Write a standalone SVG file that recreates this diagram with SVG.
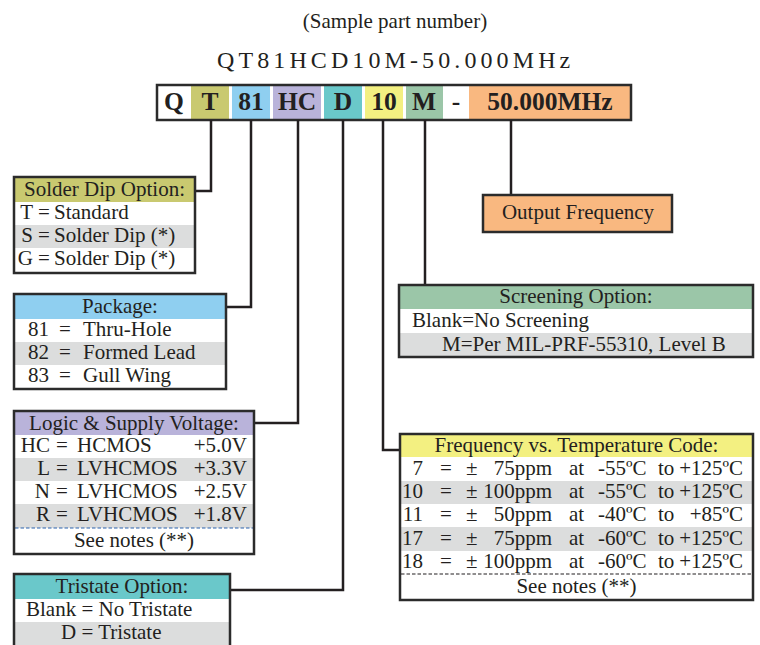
<svg xmlns="http://www.w3.org/2000/svg" width="760" height="645" viewBox="0 0 760 645">
<style>
text{font-family:"Liberation Serif","Times New Roman",serif;fill:#231f20}
.t{font-size:21px}
.c{text-anchor:middle}
.e{text-anchor:end}
.b{font-weight:bold;font-size:25.5px;text-anchor:middle}
.box{fill:none;stroke:#2b2b2b;stroke-width:2.5}
.g{fill:#dcdddd}
.conn path{fill:none;stroke:#231f20;stroke-width:2.5}
</style>
<rect width="760" height="645" fill="#fff"/>
<text x="395" y="28" class="c" style="font-size:21px">(Sample part number)</text>
<text x="217" y="68" style="font-size:24px;letter-spacing:4.1px">QT81HCD10M-50.000MHz</text>

<g id="partbar">
<rect x="157" y="85" width="474" height="35" fill="#fff"/>
<rect x="191" y="86" width="38" height="33" fill="#c9c970"/>
<rect x="232" y="86" width="38" height="33" fill="#8fcff0"/>
<rect x="273" y="86" width="48" height="33" fill="#b9b3da"/>
<rect x="324" y="86" width="38" height="33" fill="#6ac8ca"/>
<rect x="365" y="86" width="38" height="33" fill="#f3f081"/>
<rect x="406" y="86" width="37" height="33" fill="#9bc6a8"/>
<rect x="469" y="86" width="161" height="33" fill="#f9b880"/>
<rect x="157" y="85" width="474" height="35" class="box"/>
<text x="174" y="110" class="b">Q</text>
<text x="210" y="110" class="b">T</text>
<text x="251" y="110" class="b">81</text>
<text x="297" y="110" class="b">HC</text>
<text x="343" y="110" class="b">D</text>
<text x="384" y="110" class="b">10</text>
<text x="424" y="110" class="b">M</text>
<text x="456" y="110" class="b">-</text>
<text x="550" y="110" class="b">50.000MHz</text>
</g>

<g class="conn" id="connectors">
<path d="M211,120 V191 H195"/>
<path d="M251,120 V307 H226"/>
<path d="M298,120 V423 H254"/>
<path d="M343,120 V590 H230"/>
<path d="M383,120 V450 H400"/>
<path d="M425,120 V285"/>
<path d="M511,120 V195"/>
</g>

<g id="solder">
<rect x="14" y="177" width="181" height="25" fill="#c9c970"/>
<rect x="14" y="225" width="181" height="23" class="g"/>
<rect x="14" y="177" width="181" height="96" class="box"/>
<text x="104.5" y="196" class="t c">Solder Dip Option:</text>
<text x="33" y="219" class="t e">T</text><text x="38" y="219" class="t">=</text><text x="54" y="219" class="t">Standard</text>
<text x="33" y="242" class="t e">S</text><text x="38" y="242" class="t">=</text><text x="54" y="242" class="t">Solder Dip (*)</text>
<text x="33" y="265" class="t e">G</text><text x="38" y="265" class="t">=</text><text x="54" y="265" class="t">Solder Dip (*)</text>
</g>

<g id="package">
<rect x="14" y="294" width="212" height="25" fill="#8fcff0"/>
<rect x="14" y="342" width="212" height="23" class="g"/>
<rect x="14" y="294" width="212" height="95" class="box"/>
<text x="120" y="313" class="t c">Package:</text>
<text x="28" y="336" class="t">81</text><text x="59" y="336" class="t">=</text><text x="83" y="336" class="t">Thru-Hole</text>
<text x="28" y="359" class="t">82</text><text x="59" y="359" class="t">=</text><text x="83" y="359" class="t">Formed Lead</text>
<text x="28" y="382" class="t">83</text><text x="59" y="382" class="t">=</text><text x="83" y="382" class="t">Gull Wing</text>
</g>

<g id="logic">
<rect x="14" y="411" width="240" height="24" fill="#b9b3da"/>
<rect x="14" y="458" width="240" height="23" class="g"/>
<rect x="14" y="504" width="240" height="24" class="g"/>
<line x1="15" y1="528" x2="253" y2="528" stroke="#2a63ad" stroke-width="1.2" stroke-dasharray="3.5,2"/>
<rect x="14" y="411" width="240" height="143" class="box"/>
<text x="134" y="430" class="t c">Logic &amp; Supply Voltage:</text>
<text x="50" y="452" class="t e">HC</text><text x="56" y="452" class="t">=</text><text x="77" y="452" class="t">HCMOS</text><text x="247" y="452" class="t e">+5.0V</text>
<text x="50" y="475" class="t e">L</text><text x="56" y="475" class="t">=</text><text x="77" y="475" class="t">LVHCMOS</text><text x="247" y="475" class="t e">+3.3V</text>
<text x="50" y="498" class="t e">N</text><text x="56" y="498" class="t">=</text><text x="77" y="498" class="t">LVHCMOS</text><text x="247" y="498" class="t e">+2.5V</text>
<text x="50" y="521" class="t e">R</text><text x="56" y="521" class="t">=</text><text x="77" y="521" class="t">LVHCMOS</text><text x="247" y="521" class="t e">+1.8V</text>
<text x="134" y="547" class="t c">See notes (**)</text>
</g>

<g id="tristate">
<rect x="14" y="574" width="216" height="25" fill="#6ac8ca"/>
<rect x="14" y="622" width="216" height="30" class="g"/>
<rect x="14" y="574" width="216" height="80" class="box"/>
<text x="122" y="593" class="t c">Tristate Option:</text>
<text x="26" y="616" class="t">Blank = No Tristate</text>
<text x="61" y="639" class="t">D = Tristate</text>
</g>

<g id="output">
<rect x="483" y="195" width="189" height="37" fill="#f9b880" stroke="#2b2b2b" stroke-width="2.5"/>
<text x="578" y="219" class="t c">Output Frequency</text>
</g>

<g id="screening">
<rect x="399" y="285" width="354" height="24" fill="#9bc6a8"/>
<rect x="399" y="333" width="354" height="24" class="g"/>
<rect x="399" y="285" width="354" height="72" class="box"/>
<text x="576" y="303" class="t c">Screening Option:</text>
<text x="412" y="327" class="t">Blank=No Screening</text>
<text x="442" y="351" class="t">M=Per MIL-PRF-55310, Level B</text>
</g>

<g id="freqtemp">
<rect x="400" y="434" width="353" height="23" fill="#f3f081"/>
<rect x="400" y="481" width="353" height="23" class="g"/>
<rect x="400" y="527" width="353" height="24" class="g"/>
<line x1="401" y1="574" x2="752" y2="574" stroke="#231f20" stroke-width="1.2" stroke-dasharray="3.5,2"/>
<rect x="400" y="434" width="353" height="166" class="box"/>
<text x="576.5" y="452" class="t c">Frequency vs. Temperature Code:</text>
<g>
<text x="423" y="475" class="t e">7</text><text x="440" y="475" class="t">=</text><text x="466" y="475" class="t">±</text><text x="552" y="475" class="t e">75ppm</text><text x="569" y="475" class="t">at</text><text x="598" y="475" class="t">-55ºC</text><text x="658" y="475" class="t">to</text><text x="743" y="475" class="t e">+125ºC</text>
<text x="423" y="498" class="t e">10</text><text x="440" y="498" class="t">=</text><text x="466" y="498" class="t">±</text><text x="552" y="498" class="t e">100ppm</text><text x="569" y="498" class="t">at</text><text x="598" y="498" class="t">-55ºC</text><text x="658" y="498" class="t">to</text><text x="743" y="498" class="t e">+125ºC</text>
<text x="423" y="521" class="t e">11</text><text x="440" y="521" class="t">=</text><text x="466" y="521" class="t">±</text><text x="552" y="521" class="t e">50ppm</text><text x="569" y="521" class="t">at</text><text x="598" y="521" class="t">-40ºC</text><text x="658" y="521" class="t">to</text><text x="743" y="521" class="t e">+85ºC</text>
<text x="423" y="545" class="t e">17</text><text x="440" y="545" class="t">=</text><text x="466" y="545" class="t">±</text><text x="552" y="545" class="t e">75ppm</text><text x="569" y="545" class="t">at</text><text x="598" y="545" class="t">-60ºC</text><text x="658" y="545" class="t">to</text><text x="743" y="545" class="t e">+125ºC</text>
<text x="423" y="568" class="t e">18</text><text x="440" y="568" class="t">=</text><text x="466" y="568" class="t">±</text><text x="552" y="568" class="t e">100ppm</text><text x="569" y="568" class="t">at</text><text x="598" y="568" class="t">-60ºC</text><text x="658" y="568" class="t">to</text><text x="743" y="568" class="t e">+125ºC</text>
</g>
<text x="576.5" y="593" class="t c">See notes (**)</text>
</g>
</svg>
